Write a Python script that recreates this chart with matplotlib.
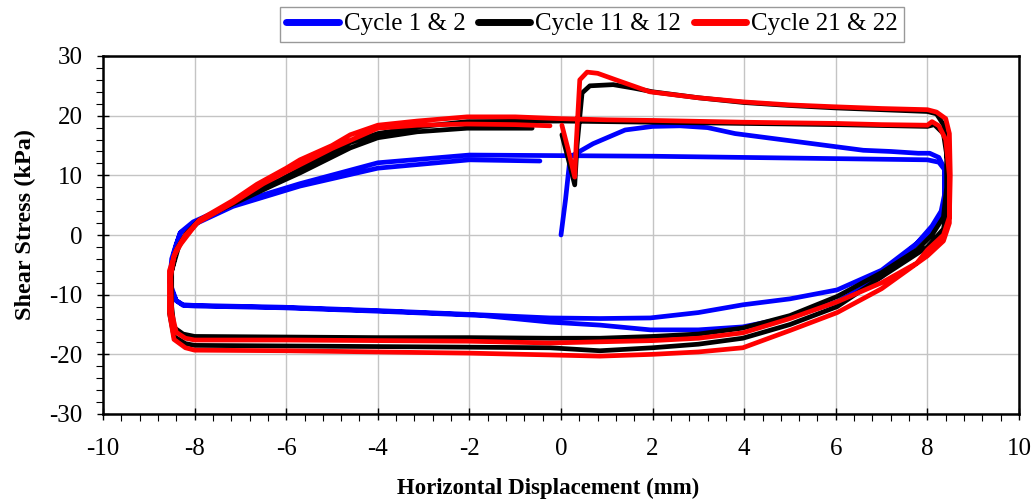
import numpy as np
import matplotlib
matplotlib.use("Agg")
import matplotlib.pyplot as plt
from matplotlib.ticker import MultipleLocator

# digitised loops (displacement mm, shear stress kPa)
blue_x = [0.0, 0.1, 0.2, 0.7, 1.4, 2.0, 2.6, 3.2, 3.8, 4.5, 5.2, 6.0, 6.6, 7.2, 7.8, 8.05, 8.25, 8.38,
          8.38, 8.3, 8.1, 7.77, 7.0, 6.03, 5.0, 3.97, 3.0, 1.95, 0.85, -0.24, -1.7, -3.9, -6.07, -8.0, -8.25,
          -8.4, -8.52, -8.54, -8.5, -8.4, -8.3, -8.03, -7.16, -5.7, -4.0, -2.0, 0.0, 2.0, 4.0, 6.0, 8.0, 8.25,
          8.38, 8.38, 8.2, 7.77, 7.0, 6.03, 5.0, 3.97, 3.0, 1.95, 0.85, -0.24, -1.7, -3.9, -6.07, -8.0, -8.25,
          -8.4, -8.54, -8.45, -8.32, -8.0, -7.16, -5.7, -4.0, -2.0, -0.46]
blue_y = [0.0, 6.0, 13.1, 15.3, 17.6, 18.2, 18.3, 18.0, 17.0, 16.3, 15.6, 14.8, 14.2, 14.0, 13.7, 13.7, 13.0, 11.0,
          7.0, 4.0, 1.5, -1.4, -5.9, -9.2, -10.7, -11.7, -13.0, -13.9, -14.0, -13.9, -13.4, -12.7, -12.1, -11.8, -11.7,
          -11.0, -9.0, -7.5, -4.0, -1.5, 0.5, 2.2, 5.2, 8.6, 12.1, 13.4, 13.3, 13.2, 13.0, 12.8, 12.6, 12.2,
          10.9, 5.0, 1.5, -1.4, -7.0, -11.2, -13.8, -15.4, -15.9, -15.9, -15.1, -14.6, -13.5, -12.8, -12.2, -11.9, -11.8,
          -11.0, -8.0, -3.0, 0.3, 1.8, 4.8, 8.2, 11.2, 12.6, 12.4]

black_x = [0.02, 0.15, 0.3, 0.35, 0.46, 0.63, 1.14, 1.6, 2.0, 3.0, 4.0, 5.0, 6.0, 7.0, 8.0, 8.2, 8.35, 8.42,
           8.42, 8.35, 8.1, 7.77, 7.0, 6.03, 5.0, 3.97, 3.0, 2.0, 0.85, -0.24, -2.0, -4.0, -6.0, -8.0, -8.25,
           -8.45, -8.5, -8.5, -8.4, -8.2, -7.9, -7.16, -6.14, -5.7, -4.6, -4.0, -3.14, -2.05, 0.0, 2.0, 4.0, 6.0,
           8.0, 8.15, 8.35, 8.45, 8.45, 8.35, 8.0, 7.5, 7.0, 6.03, 5.0, 3.97, 3.0, 2.0, 0.85, -0.24, -2.0, -4.0,
           -6.0, -8.0, -8.2, -8.45, -8.55, -8.5, -8.35, -8.15, -7.9, -7.16, -6.3, -5.7, -4.6, -4.0, -3.14, -2.05, -0.63]
black_y = [16.8, 13.0, 8.4, 15.0, 23.8, 25.0, 25.2, 24.6, 24.0, 23.0, 22.2, 21.7, 21.3, 21.0, 20.7, 20.3, 18.5, 15.0,
           8.0, 3.0, 0.0, -2.5, -6.3, -10.3, -13.5, -15.6, -16.6, -17.0, -17.3, -17.3, -17.2, -17.2, -17.1, -17.0, -16.6,
           -15.5, -12.0, -6.0, -2.5, 0.0, 2.3, 5.5, 9.2, 11.0, 15.5, 17.0, 18.1, 19.0, 19.1, 18.9, 18.7, 18.5,
           18.2, 18.5, 17.0, 12.0, 5.0, 1.0, -2.0, -4.5, -7.0, -12.0, -15.0, -17.3, -18.3, -18.9, -19.4, -18.9, -18.8, -18.7,
           -18.6, -18.5, -18.2, -17.0, -13.0, -6.0, -2.0, 0.5, 2.5, 5.2, 8.3, 10.4, 14.6, 16.3, 17.3, 17.9, 17.9]

red_x = [0.02, 0.15, 0.3, 0.33, 0.41, 0.57, 0.8, 1.2, 1.94, 3.0, 4.0, 5.0, 5.94, 7.0, 8.0, 8.2, 8.4, 8.48,
         8.5, 8.48, 8.35, 8.0, 7.77, 7.0, 6.03, 5.0, 3.97, 3.0, 2.0, 0.85, -0.24, -2.0, -4.0, -6.0, -8.0, -8.2,
         -8.4, -8.5, -8.52, -8.45, -8.3, -8.1, -7.9, -7.16, -6.64, -6.0, -5.7, -5.0, -4.6, -4.0, -3.14, -2.05,
         -1.0, 0.0, 1.0, 2.0, 4.0, 6.0, 7.0, 8.0, 8.1, 8.25, 8.4, 8.48, 8.48, 8.35, 8.0, 7.0, 6.03, 5.0, 3.97,
         3.0, 2.0, 0.85, -0.24, -2.0, -4.0, -6.0, -8.0, -8.2, -8.45, -8.55, -8.55, -8.4, -8.2, -7.95, -7.16,
         -6.5, -6.0, -5.0, -4.0, -3.14, -2.05, -1.0, -0.24]
red_y = [18.4, 14.5, 9.7, 15.0, 26.0, 27.3, 27.1, 26.0, 24.0, 23.0, 22.3, 21.8, 21.5, 21.2, 21.0, 20.6, 19.5, 17.0,
         10.0, 3.0, 0.0, -2.5, -4.7, -8.0, -11.2, -14.0, -16.4, -17.3, -17.7, -17.9, -18.1, -17.8, -17.7, -17.6, -17.6, -17.3,
         -16.3, -13.0, -7.0, -3.5, -1.5, 0.5, 2.5, 5.8, 8.5, 11.2, 12.6, 15.0, 16.8, 18.4, 19.1, 19.8,
         19.8, 19.5, 19.3, 19.2, 18.9, 18.7, 18.5, 18.4, 19.0, 18.3, 16.0, 10.0, 2.0, -1.0, -3.5, -9.0, -13.0, -16.0, -18.9,
         -19.6, -20.0, -20.3, -20.1, -19.8, -19.6, -19.4, -19.3, -18.9, -17.5, -13.0, -6.0, -2.5, 0.0, 2.0, 5.4,
         8.6, 10.6, 14.5, 17.9, 18.4, 18.6, 18.5, 18.3]

labels = ["Cycle 1 & 2", "Cycle 11 & 12", "Cycle 21 & 22"]
colors = ["#0000ff", "#000000", "#ff0000"]

plt.rcParams['font.family'] = ['Liberation Serif', 'DejaVu Serif']
plt.rcParams['axes.unicode_minus'] = False

fig = plt.figure(figsize=(10.34, 5.0), dpi=100)
ax = fig.add_axes([0.0996, 0.172, 0.8859, 0.716])

for xs, ys, lab, col in zip([blue_x, black_x, red_x], [blue_y, black_y, red_y], labels, colors):
    ax.plot(xs, ys, color=col, lw=3.4, label=lab, solid_joinstyle='round', solid_capstyle='round')

ax.set_xlim(-10, 10)
ax.set_ylim(-30, 30)
ax.xaxis.set_major_locator(MultipleLocator(2))
ax.xaxis.set_minor_locator(MultipleLocator(0.4))
ax.yaxis.set_major_locator(MultipleLocator(10))
ax.yaxis.set_minor_locator(MultipleLocator(2))
ax.grid(True, which='major', color='#c4c4c4', lw=1.0)
ax.set_axisbelow(True)
for s in ax.spines.values():
    s.set_linewidth(1.8)
ax.tick_params(which='major', direction='inout', length=9, width=1.0, labelsize=18)
ax.tick_params(which='minor', direction='out', length=5, width=0.8)
ax.tick_params(axis='x', pad=13)
ax.tick_params(axis='y', pad=10)

ax.set_xlabel('Horizontal Displacement (mm)', fontsize=16.5, fontweight='bold')
ax.set_ylabel('Shear Stress (kPa)', fontsize=17.5, fontweight='bold')
ax.xaxis.set_label_coords(0.486, -0.178)
ax.yaxis.set_label_coords(-0.073, 0.528)

leg = ax.legend(loc='center', bbox_to_anchor=(0.534, 1.089), ncol=3, fontsize=18,
                frameon=True, fancybox=False, edgecolor='#808080', handlelength=2.1,
                handletextpad=0.2, columnspacing=0.5, borderpad=0.25, borderaxespad=0)
leg.get_frame().set_linewidth(1.0)
for h in leg.get_lines():
    h.set_linewidth(5)

plt.savefig('out.png', dpi=100)
